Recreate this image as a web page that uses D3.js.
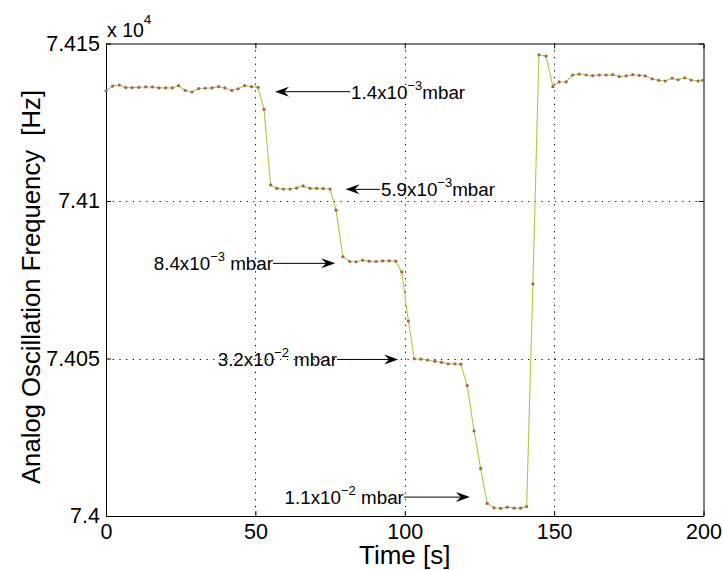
<!DOCTYPE html>
<html>
<head>
<meta charset="utf-8">
<script src="https://cdn.jsdelivr.net/npm/d3@7"></script>
<style>
  html, body { margin: 0; padding: 0; background: #fff; }
  svg { display: block; font-family: "Liberation Sans", Arial, Helvetica, sans-serif; }
</style>
</head>
<body>
<svg id="chart" width="723" height="570"></svg>
<script>
// Sample times [s]
const times = [
  0, 2.2, 4.5, 6.6, 8.8, 11.0, 13.3, 15.5, 17.7, 20.0, 22.2, 24.3, 26.5, 28.8, 31.0, 33.2,
  35.5, 37.7, 39.8, 42.1, 44.2, 46.4, 48.7, 50.9, 52.9,
  55.1, 57.2, 59.4, 61.6, 63.8, 66.0, 68.3, 70.5, 72.7, 75.0, 77.0,
  79.3, 81.6, 83.7, 85.9, 88.1, 90.4, 92.6, 94.8, 97.0, 99.0, 101.2,
  103.2, 105.4, 107.6, 110.1, 112.3, 114.5, 116.8, 118.8,
  120.9, 123.2, 125.4, 127.6, 129.9, 132.1, 134.3, 136.6, 138.8, 140.8, 142.9,
  144.9, 147.3, 149.6, 151.7, 154.0, 156.2, 158.4, 160.7, 162.9, 165.1, 167.4, 169.6,
  171.8, 174.1, 176.3, 178.5, 180.5, 182.8, 185.0, 187.2, 189.5, 191.5, 193.7, 195.9, 198.2, 199.8
];

// Analog oscillation frequency [Hz]
const frequency = [
  74135.0, 74136.5, 74136.8, 74136.0, 74136.0, 74136.1, 74136.2, 74136.2, 74135.9, 74135.9, 74135.9, 74136.6,
  74135.1, 74134.6, 74135.7, 74135.8, 74135.9, 74136.3, 74135.9, 74135.1, 74135.6, 74136.6, 74136.3, 74136.1,
  74129.1,
  74105.1, 74104.0, 74103.8, 74103.8, 74104.1, 74104.8, 74104.0, 74104.0, 74103.9, 74103.8, 74097.1,
  74082.3, 74080.8, 74080.7, 74081.2, 74080.9, 74080.8, 74081.0, 74081.0, 74080.9, 74077.5, 74061.9,
  74049.9, 74049.8, 74049.5, 74049.1, 74048.8, 74048.3, 74048.3, 74048.2,
  74041.4, 74027.0, 74015.1, 74004.0, 74002.6, 74002.4, 74002.8, 74002.5, 74002.5, 74003.0, 74073.7,
  74146.4, 74146.0, 74136.3, 74137.8, 74137.8, 74140.0, 74140.3, 74140.0, 74139.8, 74140.0, 74140.0, 74140.1,
  74139.5, 74139.7, 74140.1, 74139.9, 74139.7, 74138.8, 74138.3, 74138.1, 74139.0, 74138.5, 74139.1, 74138.4,
  74138.1, 74138.3
];

const xTicks = [0, 50, 100, 150, 200];
const yTicks = [74000, 74050, 74100, 74150];
const yTickLabels = ["7.4", "7.405", "7.41", "7.415"];
const xGrid = [50, 100, 150];
const yGrid = [74050, 74100];

// Pressure annotations: label pieces, arrow tail and tip in data units
const pressureLabels = ["1.4x10", "5.9x10", "8.4x10", "3.2x10", "1.1x10"];
const pressureExponents = ["\u22123", "\u22123", "\u22123", "\u22122", "\u22122"];
const pressureUnits = ["mbar", "mbar", " mbar", " mbar", " mbar"];
const arrowTailT = [81.7, 91.7, 55.9, 77.3, 99.7];
const arrowTipT = [56.6, 80.2, 76.7, 97.8, 121.8];
const arrowLevel = [74134.7, 74103.7, 74080.2, 74049.7, 74006.0];
const labelSide = ["right", "right", "left", "left", "left"];

const svg = d3.select("#chart");
const x = d3.scaleLinear().domain([0, 200]).range([106, 703.5]);
const y = d3.scaleLinear().domain([74000, 74150]).range([516, 43.5]);
const [x0, x1] = x.range();
const [y0, y1] = y.range();

// dotted grid
const grid = svg.append("g").attr("stroke", "#000").attr("stroke-width", 1)
  .attr("stroke-dasharray", "1.2,5.5");
grid.selectAll("line.gx").data(xGrid).join("line").attr("class", "gx")
  .attr("x1", d => Math.round(x(d)) + 0.5).attr("x2", d => Math.round(x(d)) + 0.5)
  .attr("y1", y1).attr("y2", y0);
grid.selectAll("line.gy").data(yGrid).join("line").attr("class", "gy")
  .attr("y1", d => Math.round(y(d)) + 0.5).attr("y2", d => Math.round(y(d)) + 0.5)
  .attr("x1", x0).attr("x2", x1);

// axes (ticks pointing inward, on all four sides)
const fmtY = d => yTickLabels[yTicks.indexOf(d)];
const axisB = svg.append("g").attr("transform", `translate(0,${y0})`)
  .call(d3.axisBottom(x).tickValues(xTicks).tickSizeInner(-5).tickSizeOuter(0).tickPadding(8));
const axisT = svg.append("g").attr("transform", `translate(0,${y1})`)
  .call(d3.axisTop(x).tickValues(xTicks).tickSizeInner(-5).tickSizeOuter(0).tickFormat(""));
const axisL = svg.append("g").attr("transform", `translate(${x0},0)`)
  .call(d3.axisLeft(y).tickValues(yTicks).tickFormat(fmtY).tickSizeInner(-5).tickSizeOuter(0).tickPadding(6));
const axisR = svg.append("g").attr("transform", `translate(${x1},0)`)
  .call(d3.axisRight(y).tickValues(yTicks).tickSizeInner(-5).tickSizeOuter(0).tickFormat(""));
[axisB, axisT, axisL, axisR].forEach(g => {
  g.select(".domain").attr("stroke", "#000").attr("stroke-width", 1);
  g.selectAll(".tick line").attr("stroke", "#000");
  g.selectAll("text").attr("font-family", "Liberation Sans, Arial, sans-serif")
    .attr("font-size", 21.5).attr("fill", "#000");
});

// exponent label
const expo = svg.append("text").attr("x", x0 + 1).attr("y", 37)
  .attr("font-size", 19.5).attr("fill", "#000");
expo.append("tspan").text("x 10");
expo.append("tspan").attr("dy", -13).attr("font-size", 13.5).text("4");

// axis titles
svg.append("text").attr("x", (x0 + x1) / 2).attr("y", 564).attr("text-anchor", "middle")
  .attr("font-size", 26).attr("fill", "#000").text("Time [s]");
svg.append("text").attr("transform", `translate(40,287) rotate(-90)`)
  .attr("text-anchor", "middle").attr("font-size", 25.7).attr("fill", "#000")
  .attr("xml:space", "preserve").style("white-space", "pre")
  .text("Analog Oscillation Frequency  [Hz]");

// data line and markers
const pts = times.map((t, i) => [t, frequency[i]]);
svg.append("path").datum(pts)
  .attr("fill", "none").attr("stroke", "#afc840").attr("stroke-width", 1.1)
  .attr("d", d3.line().x(d => x(d[0])).y(d => y(d[1])));
svg.append("g").selectAll("circle").data(pts).join("circle")
  .attr("cx", d => x(d[0])).attr("cy", d => y(d[1])).attr("r", 1.6)
  .attr("fill", "#a4644c");

// pressure annotations
const arrows = svg.append("g");
pressureLabels.forEach((lab, i) => {
  const tx = x(arrowTailT[i]), hx = x(arrowTipT[i]), ay = y(arrowLevel[i]);
  const dir = Math.sign(hx - tx);
  const L = 14, W = 5;
  arrows.append("line").attr("x1", tx).attr("x2", hx - dir * L * 0.6)
    .attr("y1", ay).attr("y2", ay).attr("stroke", "#000").attr("stroke-width", 1);
  arrows.append("path")
    .attr("d", `M${hx},${ay} L${hx - dir * L},${ay - W} L${hx - dir * L * 0.65},${ay} L${hx - dir * L},${ay + W} Z`)
    .attr("fill", "#000");
  const t = arrows.append("text").attr("y", ay + 7).attr("font-size", 18.8).attr("fill", "#000")
    .attr("xml:space", "preserve").style("white-space", "pre");
  t.append("tspan").text(lab);
  t.append("tspan").attr("dy", -9).attr("font-size", 13).text(pressureExponents[i]);
  t.append("tspan").attr("dy", 9).text(pressureUnits[i]);
  if (labelSide[i] === "right") t.attr("x", tx + 1);
  else t.attr("x", tx).attr("text-anchor", "end");
});
</script>
</body>
</html>
